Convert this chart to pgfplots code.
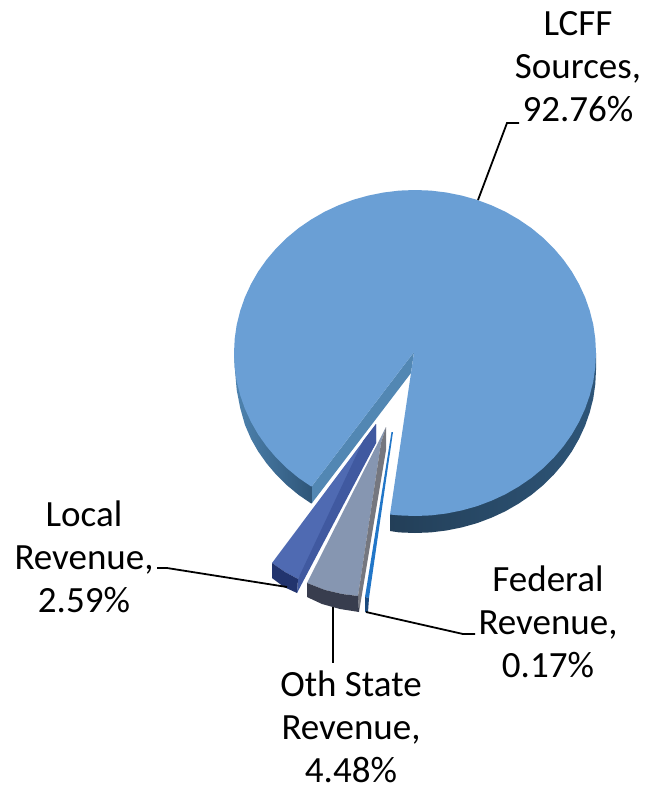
\documentclass[border=0pt]{standalone}
\usepackage{fontspec}
\setmainfont{Carlito}
\usepackage{pgfplots}
\pgfplotsset{compat=1.18}
\definecolor{pietop}{HTML}{6A9FD5}
\definecolor{piewall}{HTML}{5287B3}
\definecolor{piedark}{HTML}{233F58}
\definecolor{pieedge}{HTML}{2E5578}
\definecolor{pieleft}{HTML}{4F84B0}
\definecolor{localtop}{HTML}{4F6AB2}
\definecolor{localwall}{HTML}{4059A0}
\definecolor{localfront}{HTML}{22346E}
\definecolor{othtop}{HTML}{8696B1}
\definecolor{othwall}{HTML}{75777F}
\definecolor{othfront}{HTML}{383D4E}
\definecolor{fedtop}{HTML}{2176C8}
\definecolor{fedfront}{HTML}{1B4A7E}
\tikzset{pielabel/.style={font=\fontsize{37}{43}\selectfont, align=center, text=black, inner sep=0pt}}

\begin{document}
\begin{tikzpicture}
\begin{axis}[
    scale only axis,
    width=646pt,
    height=787pt,
    xmin=0, xmax=646,
    ymin=0, ymax=787,
    y dir=reverse,
    hide axis,
    clip=false,
    every axis plot/.append style={no markers},
]

% keeps the page as large as the whole axis
\addplot[draw=none] coordinates {(0,0) (646,787)};

% side of the big slice, lower right
\addplot[draw=none, left color=piedark, right color=pieedge] coordinates {
    (390,514) (390,531) (399.2,532.4) (415,533) (430.8,532.4) (446.4,530.5) (461.8,527.4)
    (476.9,523.2) (491.5,517.7) (505.5,511.2) (518.8,503.5) (531.4,494.9) (543,485.3)
    (553.7,474.8) (563.3,463.5) (571.8,451.5) (579,438.9) (585.1,425.7) (589.8,412.2)
    (593.3,398.3) (595.3,384.2) (596,370) (596,353)
};

% side of the big slice, lower left
\addplot[draw=none, left color=pieleft, right color=pieedge] coordinates {
    (234,353) (234.7,367) (236.7,390) (240.2,408) (244.9,424.7) (251,438.9) (258.2,451.5)
    (266.7,463.5) (276.3,474.8) (287,485.3) (298.6,494.9) (311.2,503.5) (312,503) (312,486)
};

% inner wall of the big slice
\addplot[draw=none, fill=piewall] coordinates {
    (414,352) (312,486) (312,503) (411,373)
};

% top of the big slice
\addplot[draw=none, fill=pietop] coordinates {
    (390,514.5) (399.2,515.4) (415,516) (430.8,515.4) (446.4,513.5) (461.8,510.4) (476.9,506.2)
    (491.5,500.7) (505.5,494.2) (518.8,486.5) (531.4,477.9) (543,468.3) (553.7,457.8)
    (563.3,446.5) (571.8,434.5) (579,421.9) (585.1,408.7) (589.8,395.2) (593.3,381.3)
    (595.3,367.2) (596,353) (595.3,338.8) (593.3,324.7) (589.8,310.8) (585.1,297.3)
    (579,284.1) (571.8,271.5) (563.3,259.5) (553.7,248.2) (543,237.7) (531.4,228.1)
    (518.8,219.5) (505.5,211.8) (491.5,205.3) (476.9,199.8) (461.8,195.6) (446.4,192.5)
    (430.8,190.6) (415,190) (399.2,190.6) (383.6,192.5) (368.2,195.6) (353.1,199.8)
    (338.5,205.3) (324.5,211.8) (311.2,219.5) (298.6,228.1) (287,237.7) (276.3,248.2)
    (266.7,259.5) (258.2,271.5) (251,284.1) (244.9,297.3) (240.2,310.8) (236.7,324.7)
    (234.7,338.8) (234,353) (234.7,367.2) (236.7,381.3) (240.2,395.2) (244.9,408.7)
    (251,421.9) (258.2,434.5) (266.7,446.5) (276.3,457.8) (287,468.3) (298.6,477.9)
    (311.2,486.5) (312,486) (414,352) (411,373)
};

% local revenue
\addplot[draw=none, fill=localtop] coordinates {
    (376,424) (272,563) (285,572) (298,579) (376,443)
};
\addplot[draw=none, fill=localwall] coordinates {
    (376,424) (363,441) (298,579) (297,593) (376,443)
};
\addplot[draw=none, fill=localfront] coordinates {
    (272,563) (285,572) (298,579) (297,593) (284,587) (272,578)
};

% other state revenue
\addplot[draw=none, fill=othtop] coordinates {
    (386,427) (307,583) (325,590) (342,594) (358,596) (381,443)
};
\addplot[draw=none, fill=othwall] coordinates {
    (386,427) (381,443) (358,596) (359,612) (386,450)
};
\addplot[draw=none, fill=othfront] coordinates {
    (307,583) (325,590) (342,594) (358,596) (359,612) (340,609) (322,604) (307,597)
};

% federal revenue
\addplot[draw=none, fill=fedtop] coordinates {
    (391.5,432) (393,432) (369,598) (365,597)
};
\addplot[draw=none, fill=fedfront] coordinates {
    (365,597) (369,598) (368,612) (365,612)
};

% leader lines
\addplot[black, line width=1.8pt] coordinates {(478,200) (507,123) (519,123)};
\addplot[black, line width=1.8pt] coordinates {(157,568) (167,568) (287,587)};
\addplot[black, line width=1.8pt] coordinates {(333,607) (333,663)};
\addplot[black, line width=1.8pt] coordinates {(366,612) (463,634) (475,634)};

% labels
\node[pielabel] at (axis cs:578,67) {LCFF\\Sources,\\92.76\%};
\node[pielabel] at (axis cs:84,557) {Local\\Revenue,\\2.59\%};
\node[pielabel] at (axis cs:548,622) {Federal\\Revenue,\\0.17\%};
\node[pielabel] at (axis cs:351,726.5) {Oth State\\Revenue,\\4.48\%};
\end{axis}
\end{tikzpicture}
\end{document}
